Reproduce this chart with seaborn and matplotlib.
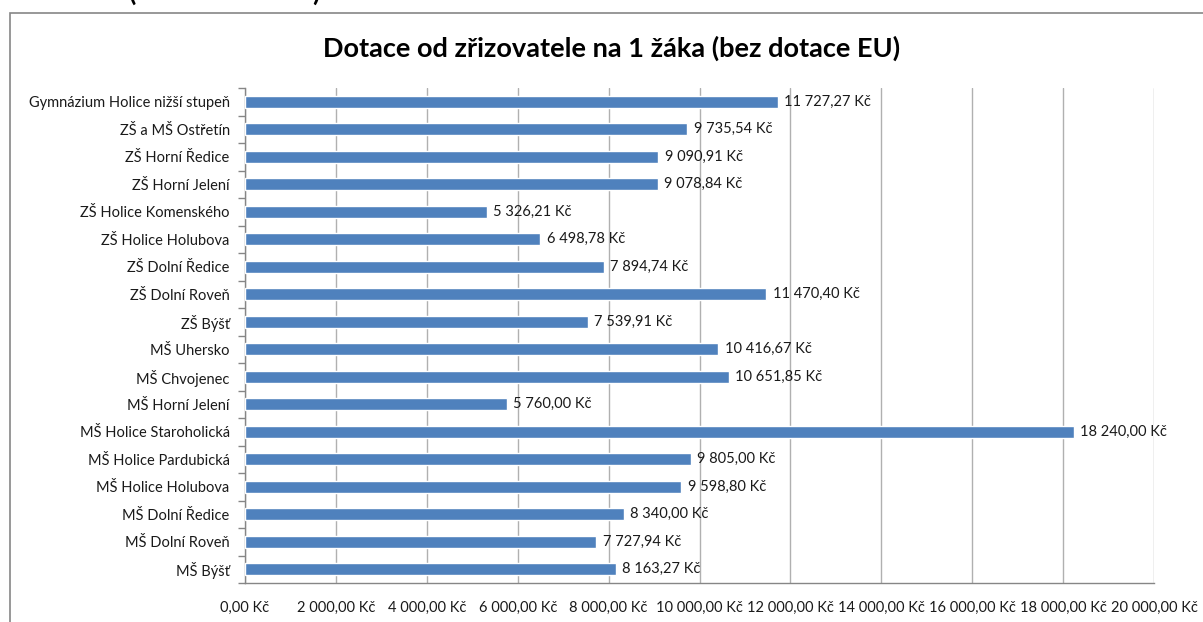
import matplotlib
matplotlib.use("Agg")
import matplotlib.pyplot as plt
import seaborn as sns
import pandas as pd
from matplotlib.patches import Rectangle
from matplotlib.ticker import FuncFormatter, MultipleLocator

categories = [
    "Gymnázium Holice nižší stupeň",
    "ZŠ a MŠ Ostřetín",
    "ZŠ Horní Ředice",
    "ZŠ Horní Jelení",
    "ZŠ Holice Komenského",
    "ZŠ Holice Holubova",
    "ZŠ Dolní Ředice",
    "ZŠ Dolní Roveň",
    "ZŠ Býšť",
    "MŠ Uhersko",
    "MŠ Chvojenec",
    "MŠ Horní Jelení",
    "MŠ Holice Staroholická",
    "MŠ Holice Pardubická",
    "MŠ Holice Holubova",
    "MŠ Dolní Ředice",
    "MŠ Dolní Roveň",
    "MŠ Býšť",
]
values = [11727.27, 9735.54, 9090.91, 9078.84, 5326.21, 6498.78, 7894.74,
          11470.40, 7539.91, 10416.67, 10651.85, 5760.00, 18240.00, 9805.00,
          9598.80, 8340.00, 7727.94, 8163.27]
title = "Dotace od zřizovatele na 1 žáka (bez dotace EU)"

sns.set_theme(style="white")
plt.rcParams["font.family"] = ["Lato", "DejaVu Sans"]

def kc(v, pos=None):
    s = f"{v:,.2f}".replace(",", " ").replace(".", ",")
    return s + " Kč"

df = pd.DataFrame({"cat": categories, "val": values})

fig = plt.figure(figsize=(12.03, 6.22), dpi=100)
ax = fig.add_axes([245/1203, 1-583/622, (1154-245)/1203, (583-88)/622])

sns.barplot(data=df, y="cat", x="val", orient="h", color="#4F81BD",
            saturation=1, width=0.42, ax=ax, zorder=3)

ax.set_xlim(0, 20000)
ax.set_ylim(len(categories)-0.5, -0.5)
ax.xaxis.set_major_locator(MultipleLocator(2000))
ax.xaxis.set_major_formatter(FuncFormatter(kc))
ax.grid(axis="x", color="#B0B0B0", linewidth=1, zorder=0)
ax.grid(axis="y", visible=False)
ax.set_xlabel("")
ax.set_ylabel("")

for s in ["top", "right"]:
    ax.spines[s].set_visible(False)
for s in ["left", "bottom"]:
    ax.spines[s].set_color("#868686")
    ax.spines[s].set_linewidth(1)

ax.tick_params(axis="x", which="major", direction="out", length=5,
               color="#868686", labelsize=10.5, pad=8, labelcolor="#1a1a1a")
ax.tick_params(axis="y", which="major", length=0, labelsize=10.5, pad=11,
               labelcolor="#1a1a1a")
ax.set_yticks(range(len(categories)))
ax.set_yticks([i - 0.5 for i in range(len(categories)+1)], minor=True)
ax.tick_params(axis="y", which="minor", direction="out", length=5,
               color="#868686", left=True)

for i, v in enumerate(values):
    ax.text(v + 140, i, kc(v), va="center", ha="left", fontsize=10.5,
            color="#1a1a1a")

fig.text(612/1203, 1-48/622, title, ha="center", va="center",
         fontsize=19.5, fontweight="bold", color="#000000")

# cropped heading fragment above the chart frame (as in the reference)
fig.text(133/1203, 1+8/622, "(", ha="center", va="center",
         fontsize=19, fontweight="bold", color="#000000")
fig.text(316/1203, 1+8/622, ")", ha="center", va="center",
         fontsize=19, fontweight="bold", color="#000000")

fig.patches.append(Rectangle((10/1203, -0.05), 1.2, 1-13/622+0.05,
                             transform=fig.transFigure, fill=False,
                             edgecolor="#868686", linewidth=1.2))

fig.savefig("out.png", dpi=100)
